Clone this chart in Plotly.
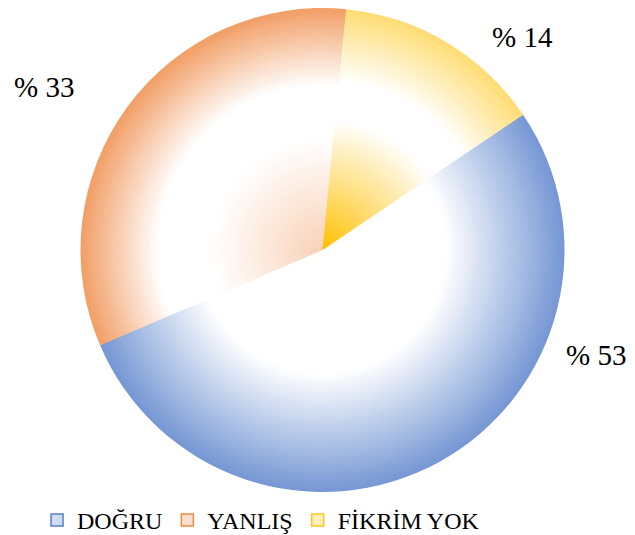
import plotly.graph_objects as go

labels = ["DOĞRU", "YANLIŞ", "FİKRİM YOK"]
values = [53, 33, 14]
label_texts = ["% " + str(v) for v in values]

base_colors = [(68, 114, 196), (237, 125, 49), (255, 192, 0)]
# radial gradient per slice: (white centre radius, white half-width, outer max, inner max)
grad = [(0.30, 0.21, 0.74, 0.0), (0.57, 0.11, 0.75, 0.35), (0.62, 0.08, 0.55, 1.0)]

W, H = 635, 535
OFF = 8            # page body margin in the browser
MB = 50
PH = H - MB
cx, cy, R = 322.5 - OFF, 250 - OFF, 242

def intensity(r, p):
    r0, w, omax, imax = p
    if r >= r0:
        t = (r - r0 - w) / max(1 - r0 - w, 1e-6)
        return omax * min(max(t, 0), 1)
    t = (r0 - r - w) / max(r0 - w, 1e-6)
    return imax * min(max(t, 0), 1)

def mix(c, t):
    return "rgb(%d,%d,%d)" % tuple(round(255 * (1 - t) + ci * t) for ci in c)

def dom(r):
    return dict(x=[max((cx - R * r) / W, 0), min((cx + R * r) / W, 1)],
                y=[max(1 - (cy + R * r) / PH, 0), min(1 - (cy - R * r) / PH, 1)])

fig = go.Figure()

# legend-only trace (tiny, hidden under the pie)
fig.add_trace(go.Pie(
    labels=labels, values=values, sort=False, direction="clockwise", rotation=56,
    textinfo="none", hoverinfo="skip",
    marker=dict(colors=[mix(c, 0.25) for c in base_colors],
                line=dict(width=1.5, color=[mix(c, 0.9) for c in base_colors])),
    domain=dom(0.01),
    showlegend=True,
))

N = 70
for k in range(N):
    r = 1 - k / N
    rm = r - 0.5 / N
    cols = [mix(base_colors[i], intensity(rm, grad[i])) for i in range(3)]
    fig.add_trace(go.Pie(
        labels=labels, values=values, sort=False, direction="clockwise",
        rotation=56, textinfo="none", hoverinfo="label+percent",
        marker=dict(colors=cols, line=dict(width=0)),
        domain=dom(r),
        showlegend=False,
    ))

ann_px = [(596, 355), (43.5, 87), (522, 37)]
annotations = [dict(x=(x - OFF) / W, y=1 - (y - OFF) / PH, xref="paper", yref="paper",
                    xanchor="center", yanchor="middle", text=t, showarrow=False,
                    font=dict(family="Liberation Serif", size=29, color="black"))
               for (x, y), t in zip(ann_px, label_texts)]

fig.update_layout(
    width=W, height=H, margin=dict(l=0, r=0, t=0, b=MB, pad=0),
    paper_bgcolor="white", plot_bgcolor="white",
    annotations=annotations,
    legend=dict(orientation="h", x=0.0457, y=-0.0113, xanchor="left", yanchor="top",
                font=dict(family="Liberation Serif", size=24, color="black"),
                itemwidth=30, bgcolor="rgba(0,0,0,0)"),
)
fig.write_html("out.html")
